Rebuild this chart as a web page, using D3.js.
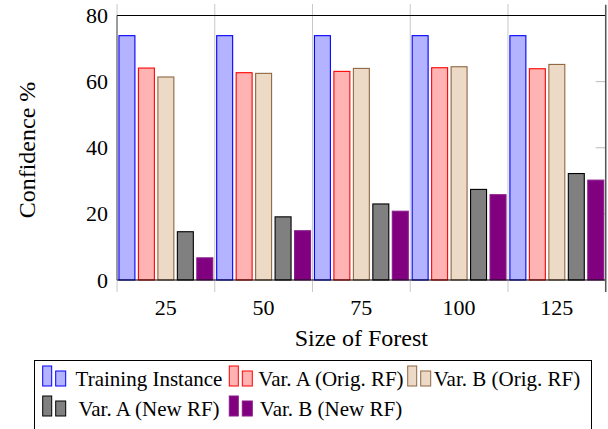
<!DOCTYPE html>
<html>
<head>
<meta charset="utf-8">
<script src="https://cdn.jsdelivr.net/npm/d3@7"></script>
<style>
  body { margin: 0; background: #fff; }
  svg text { font-family: "Liberation Serif", "Times New Roman", Tinos, "DejaVu Serif", serif; fill: #000; }
</style>
</head>
<body>
<svg id="chart" width="608" height="429"></svg>
<script>
const forestSizes = ['25', '50', '75', '100', '125'];
const seriesNames = ['Training Instance', 'Var. A (Orig. RF)', 'Var. B (Orig. RF)', 'Var. A (New RF)', 'Var. B (New RF)'];
const trainingInstance = [73.9, 73.9, 73.9, 73.9, 73.9];
const varAOrig = [64.1, 62.7, 63.1, 64.2, 63.9];
const varBOrig = [61.4, 62.5, 64.0, 64.5, 65.2];
const varANew = [14.6, 19.1, 23.0, 27.4, 32.2];
const varBNew = [6.7, 14.9, 20.8, 25.8, 30.2];
const yTicks = [0, 20, 40, 60, 80];

const fills = ['#b3b3ff', '#ffb3b3', '#ecd9c6', '#808080', '#800080'];
const strokes = ['#0000ff', '#ff0000', '#8f6641', '#000000', '#8a1a8a'];
const allSeries = [trainingInstance, varAOrig, varBOrig, varANew, varBNew];

const serif = '"Liberation Serif", "Times New Roman", Tinos, "DejaVu Serif", serif';

const svg = d3.select('#chart');

const plotLeft = 117, plotRight = 605.7, plotTop = 15.5, plotBottom = 280;

const x = d3.scaleBand()
  .domain(forestSizes)
  .range([plotLeft, plotRight])
  .padding(0);

const xInner = d3.scaleBand()
  .domain(seriesNames)
  .range([0, x.bandwidth()])
  .paddingInner(0.18)
  .paddingOuter(0.1);

const y = d3.scaleLinear()
  .domain([0, 80])
  .range([plotBottom, plotTop]);

// gray grid lines between groups, running past the frame
const bounds = forestSizes.map(d => x(d)).concat([plotRight]);
svg.append('g')
  .selectAll('line')
  .data(bounds)
  .join('line')
  .attr('x1', d => d).attr('x2', d => d)
  .attr('y1', 4).attr('y2', 292)
  .attr('stroke', '#c8c8c8')
  .attr('stroke-width', 1);

// right side ticks
svg.append('g')
  .selectAll('line')
  .data(yTicks.slice(1, 4))
  .join('line')
  .attr('x1', plotRight - 10).attr('x2', plotRight)
  .attr('y1', d => y(d)).attr('y2', d => y(d))
  .attr('stroke', '#bbb');

// bars
const rows = forestSizes.map((s, i) => ({ size: s, values: allSeries.map((arr, k) => ({ name: seriesNames[k], k: k, v: arr[i] })) }));

const groups = svg.append('g')
  .selectAll('g')
  .data(rows)
  .join('g')
  .attr('transform', d => `translate(${x(d.size)},0)`);

groups.selectAll('rect')
  .data(d => d.values)
  .join('rect')
  .attr('x', d => xInner(d.name))
  .attr('y', d => y(d.v))
  .attr('width', xInner.bandwidth())
  .attr('height', d => y(0) - y(d.v))
  .attr('fill', d => fills[d.k])
  .attr('stroke', d => strokes[d.k])
  .attr('stroke-width', 1.1);

// frame
svg.append('line').attr('x1', plotLeft).attr('x2', plotRight).attr('y1', plotTop).attr('y2', plotTop).attr('stroke', '#000');
svg.append('line').attr('x1', plotLeft).attr('x2', plotRight).attr('y1', plotBottom).attr('y2', plotBottom).attr('stroke', '#000');
svg.append('line').attr('x1', plotLeft).attr('x2', plotLeft).attr('y1', plotTop).attr('y2', plotBottom).attr('stroke', '#555');
svg.append('line').attr('x1', plotRight).attr('x2', plotRight).attr('y1', 5).attr('y2', 292).attr('stroke', '#555').attr('stroke-width', 1.5);

// axes labels
const yAxis = svg.append('g')
  .attr('transform', `translate(${plotLeft},0)`)
  .call(d3.axisLeft(y).tickValues(yTicks).tickSize(0).tickPadding(9));
yAxis.attr('font-family', serif).attr('font-size', 22);
yAxis.select('.domain').remove();

const xAxis = svg.append('g')
  .attr('transform', `translate(0,${plotBottom})`)
  .call(d3.axisBottom(x).tickSize(0).tickPadding(19));
xAxis.attr('font-family', serif).attr('font-size', 22);
xAxis.select('.domain').remove();

svg.append('text')
  .attr('x', (plotLeft + plotRight) / 2)
  .attr('y', 346)
  .attr('text-anchor', 'middle')
  .attr('font-size', 24)
  .text('Size of Forest');

svg.append('text')
  .attr('transform', 'translate(35,150) rotate(-90)')
  .attr('text-anchor', 'middle')
  .attr('font-size', 24)
  .text('Confidence %');

// legend
svg.append('rect')
  .attr('x', 34.5).attr('y', 360.5)
  .attr('width', 557).attr('height', 90)
  .attr('fill', 'none').attr('stroke', '#000');

const iconX = [42.7, 229.3, 407.7];
const textMid = [149, 331, 507];
const baselines = [386, 416];

const legendItems = svg.append('g')
  .selectAll('g')
  .data(seriesNames)
  .join('g')
  .attr('transform', (d, i) => `translate(0,${baselines[Math.floor(i / 3)]})`);

legendItems.append('rect')
  .attr('x', (d, i) => iconX[i % 3])
  .attr('y', -20).attr('width', 9).attr('height', 20)
  .attr('fill', (d, i) => fills[i]).attr('stroke', (d, i) => strokes[i]);
legendItems.append('rect')
  .attr('x', (d, i) => iconX[i % 3] + 13)
  .attr('y', -15).attr('width', 10).attr('height', 15)
  .attr('fill', (d, i) => fills[i]).attr('stroke', (d, i) => strokes[i]);
legendItems.append('text')
  .attr('x', (d, i) => textMid[i % 3])
  .attr('text-anchor', 'middle')
  .attr('font-size', 21)
  .text(d => d);
</script>
</body>
</html>
